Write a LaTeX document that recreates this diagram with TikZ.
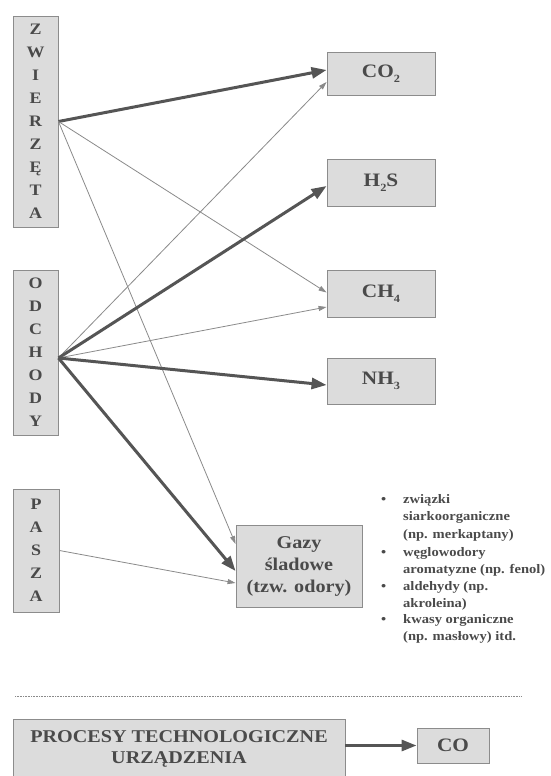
\documentclass[tikz,border=0pt]{standalone}
\usepackage{fontspec}
\setmainfont{Liberation Serif}[FakeStretch=1.12]
\usetikzlibrary{arrows.meta}
\definecolor{boxfill}{HTML}{DCDCDC}
\definecolor{boxline}{HTML}{8C8C8C}
\definecolor{txt}{HTML}{4A4A4A}
\definecolor{heavyc}{HTML}{555555}
\definecolor{lightc}{HTML}{8A8A8A}
\newcommand{\lowidx}[1]{\raisebox{-0.28em}{\fontsize{11}{11}\selectfont #1}}
\begin{document}
\begin{tikzpicture}[x=1pt,y=-1pt,
 box/.style={draw=boxline, fill=boxfill, line width=0.9pt, inner sep=0pt, text=txt, font=\bfseries},
 tall/.style={box, minimum width=45pt, align=center, font=\bfseries\fontsize{16}{23}\selectfont},
 gas/.style={box, minimum width=108pt, font=\bfseries\fontsize{19}{22}\selectfont},
 heavy/.style={draw=heavyc, line width=3pt, -{Triangle[length=15pt,width=11pt]}},
 light/.style={draw=lightc, line width=0.8pt, -{Triangle[length=8pt,width=5pt]}},
 item/.style={anchor=base west, inner sep=0pt, text=txt, font=\bfseries\fontsize{13}{17}\selectfont},
 sep/.style={draw=lightc, line width=0.8pt, dash pattern=on 1pt off 0.6pt}]
\useasboundingbox (0,0) rectangle (550,776);

% sources
\node[tall, minimum height=211pt] (zw) at (35.5,121.5) {Z\\W\\I\\E\\R\\Z\\Ę\\T\\A};
\node[tall, minimum height=165pt] (od) at (35.5,352.5) {O\\D\\C\\H\\O\\D\\Y};
\node[tall, minimum width=46pt, minimum height=123pt] (pa) at (36,550.5) {P\\A\\S\\Z\\A};

% gases
\node[gas, minimum height=43pt] (co2) at (381,73.5) {CO\lowidx{2}};
\node[gas, minimum height=47pt] (h2s) at (381,182.5) {H\lowidx{2}S};
\node[gas, minimum height=47pt] (ch4) at (381,293.5) {CH\lowidx{4}};
\node[gas, minimum height=46pt] (nh3) at (381,381) {NH\lowidx{3}};
\node[box, minimum width=126pt, minimum height=82pt, align=center,
      font=\bfseries\fontsize{18}{22}\selectfont] (gz) at (299,566) {Gazy\\śladowe\\(tzw. odory)};

% connectors
\coordinate (os) at ([yshift=-5.5pt]od.east);
\draw[heavy] (zw.east) -- ([yshift=3.5pt]co2.west);
\draw[light] (zw.east) -- ([yshift=1pt]ch4.west);
\draw[light] (zw.east) -- ([yshift=22pt]gz.west);
\draw[light] (os) -- ([yshift=-8.5pt]co2.west);
\draw[heavy] (os) -- ([yshift=-3.5pt]h2s.west);
\draw[light] (os) -- ([yshift=-13.5pt]ch4.west);
\draw[heavy] (os) -- ([yshift=-4pt]nh3.west);
\draw[heavy] (os) -- ([yshift=-5pt]gz.west);
\draw[light] (pa.east) -- ([yshift=-17pt]gz.west);

% list
\node[item] (b1) at (381,503) {•};
\node[item] (b2) at (381,556) {•};
\node[item] (b3) at (381,590) {•};
\node[item] (b4) at (381,623) {•};
\node[item] (l1) at (403,503) {związki};
\node[item] (l2) at (403,520) {siarkoorganiczne};
\node[item] (l3) at (403,538) {(np. merkaptany)};
\node[item] (l4) at (403,556) {węglowodory};
\node[item] (l5) at (403,573) {aromatyzne (np. fenol)};
\node[item] (l6) at (403,590) {aldehydy (np.};
\node[item] (l7) at (403,607) {akroleina)};
\node[item] (l8) at (403,623) {kwasy organiczne};
\node[item] (l9) at (403,640) {(np. masłowy) itd.};

% separator
\draw[sep] (15,696) -- (521,696);

% bottom
\node[box, minimum width=332pt, minimum height=59pt, align=center,
      font=\bfseries\fontsize{18}{21}\selectfont] (pr) at (179,748.5) {PROCESY TECHNOLOGICZNE\\URZĄDZENIA};
\node[gas, minimum width=72pt, minimum height=35pt] (co) at (453,745.5) {CO};
\draw[heavy] (co.west -| pr.east) -- (co.west);
\end{tikzpicture}
\end{document}
